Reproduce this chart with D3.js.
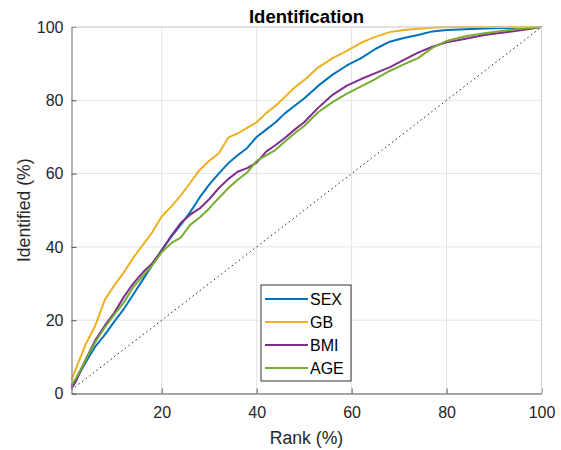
<!DOCTYPE html>
<html>
<head>
<meta charset="utf-8">
<script src="https://cdn.jsdelivr.net/npm/d3@7"></script>
<style>
  body { margin: 0; background: #fff; }
  svg text { font-family: "Liberation Sans", Arial, sans-serif; }
</style>
</head>
<body>
<div id="chart"></div>
<script>
(function() {

    // rank (%) sample points shared by all curves
    var rank = [1, 2, 4, 6, 8, 10, 12, 14, 16, 18, 20, 22, 24, 26, 28, 30, 32, 34, 36, 38,
                40, 42, 44, 46, 48, 50, 53, 56, 59, 62, 65, 68, 71, 74, 77, 80, 84, 88, 92, 96, 100];

    var sexVals = [1.9, 4, 8.5, 12.8, 16, 19.6, 23, 27, 31, 35, 39.2, 42.7, 46, 49.5, 53.5, 57, 60, 62.8, 65, 67,
                   70, 72, 74, 76.5, 78.5, 80.5, 84, 87, 89.5, 91.5, 94, 96, 97, 97.8, 98.8, 99.2, 99.4, 99.6, 99.7, 99.8, 100];
    var gbVals = [3.7, 7, 13.5, 18.5, 25.5, 29.5, 33, 37, 40.5, 44, 48.3, 51, 54, 57.5, 61, 63.5, 65.5, 69.8, 71, 72.5,
                  74, 76.5, 78.5, 81, 83.5, 85.5, 89, 91.5, 93.5, 95.7, 97.3, 98.6, 99.2, 99.5, 99.8, 100, 100, 100, 100, 100, 100];
    var bmiVals = [1.4, 3.5, 9.3, 14.5, 18.5, 22, 26.3, 30, 33, 35.5, 39, 43, 46.5, 48.8, 50.5, 53, 56, 58.5, 60.5, 61.5,
                   63, 66, 67.8, 69.8, 72, 74, 78, 81.5, 84, 85.8, 87.4, 89, 91, 93, 94.6, 95.8, 96.8, 97.8, 98.5, 99.2, 100];
    var ageVals = [2.3, 4.3, 9.2, 14, 18, 21.5, 24.8, 29, 32, 35, 38.5, 41, 42.5, 46, 48, 50.5, 53.3, 56, 58.3, 60.3,
                   63.5, 65, 66.5, 68.8, 71, 73, 76.8, 79.5, 81.8, 83.8, 85.8, 88, 89.8, 91.5, 94.3, 96.2, 97.5, 98.3, 99, 99.6, 100];

    var seriesNames = ["SEX", "GB", "BMI", "AGE"];
    var seriesColors = ["#0072BD", "#EDB120", "#7E2F8E", "#77AC30"];
    var seriesVals = [sexVals, gbVals, bmiVals, ageVals];

    var xTicks = [20, 40, 60, 80, 100];
    var yTicks = [0, 20, 40, 60, 80, 100];

    var W = 561, H = 450;
    var left = 71.5, right = 541.5, top = 27, bottom = 393.5;

    var svg = d3.select("#chart").append("svg")
        .attr("width", W)
        .attr("height", H);

    var x = d3.scaleLinear().domain([1, 100]).range([left, right]);
    var y = d3.scaleLinear().domain([0, 100]).range([bottom, top]);

    // grid
    var grid = svg.append("g");
    grid.selectAll("line.gx").data(xTicks).enter().append("line")
        .attr("x1", function(d) { return x(d); })
        .attr("x2", function(d) { return x(d); })
        .attr("y1", top).attr("y2", bottom)
        .attr("stroke", "#e3e3e3").attr("stroke-width", 1);
    grid.selectAll("line.gy").data(yTicks).enter().append("line")
        .attr("y1", function(d) { return y(d); })
        .attr("y2", function(d) { return y(d); })
        .attr("x1", left).attr("x2", right)
        .attr("stroke", "#e3e3e3").attr("stroke-width", 1);

    // reference diagonal
    svg.append("line")
        .attr("x1", x(1)).attr("y1", y(1))
        .attr("x2", x(100)).attr("y2", y(100))
        .attr("stroke", "#222").attr("stroke-width", 1)
        .attr("stroke-dasharray", "1.5,3");

    var line = d3.line()
        .x(function(d, i) { return x(rank[i]); })
        .y(function(d) { return y(d); });

    seriesVals.forEach(function(vals, k) {
        svg.append("path")
            .datum(vals)
            .attr("d", line)
            .attr("fill", "none")
            .attr("stroke", seriesColors[k])
            .attr("stroke-width", 2)
            .attr("stroke-linejoin", "round");
    });

    // axes (ticks inward, box on)
    var xAxis = svg.append("g")
        .attr("transform", "translate(0," + bottom + ")")
        .call(d3.axisBottom(x).tickValues(xTicks).tickSizeInner(-5).tickSizeOuter(0).tickPadding(13));
    var yAxis = svg.append("g")
        .attr("transform", "translate(" + left + ",0)")
        .call(d3.axisLeft(y).tickValues(yTicks).tickSizeInner(-5).tickSizeOuter(0).tickPadding(8));
    [xAxis, yAxis].forEach(function(a) {
        a.select(".domain").attr("stroke", "#8c8c8c").attr("stroke-width", 1.3);
        a.selectAll(".tick line").attr("stroke", "#555");
        a.selectAll("text").attr("fill", "#262626").style("font-size", "16px");
    });
    svg.append("line").attr("x1", left).attr("x2", right).attr("y1", top).attr("y2", top)
        .attr("stroke", "#d0d0d0").attr("stroke-width", 1);
    svg.append("line").attr("x1", right).attr("x2", right).attr("y1", top).attr("y2", bottom)
        .attr("stroke", "#d0d0d0").attr("stroke-width", 1);

    // labels
    svg.append("text")
        .attr("x", (left + right) / 2).attr("y", 22.5)
        .attr("text-anchor", "middle")
        .style("font-size", "18.5px").style("font-weight", "bold")
        .attr("fill", "#000")
        .text("Identification");
    svg.append("text")
        .attr("x", (left + right) / 2).attr("y", 444)
        .attr("text-anchor", "middle")
        .style("font-size", "17.6px").attr("fill", "#262626")
        .text("Rank (%)");
    svg.append("text")
        .attr("transform", "translate(30," + ((top + bottom) / 2) + ") rotate(-90)")
        .attr("text-anchor", "middle")
        .style("font-size", "17.6px").attr("fill", "#262626")
        .text("Identified (%)");

    // legend
    var lg = svg.append("g").attr("transform", "translate(261,285)");
    lg.append("rect")
        .attr("width", 90).attr("height", 96)
        .attr("fill", "#fff").attr("stroke", "#333").attr("stroke-width", 1);
    seriesNames.forEach(function(name, k) {
        var yy = 14 + k * 23;
        lg.append("line")
            .attr("x1", 4).attr("x2", 47).attr("y1", yy).attr("y2", yy)
            .attr("stroke", seriesColors[k]).attr("stroke-width", 2);
        lg.append("text")
            .attr("x", 49).attr("y", yy + 5.5)
            .style("font-size", "16px").attr("fill", "#000")
            .text(name);
    });
})();
</script>
</body>
</html>
